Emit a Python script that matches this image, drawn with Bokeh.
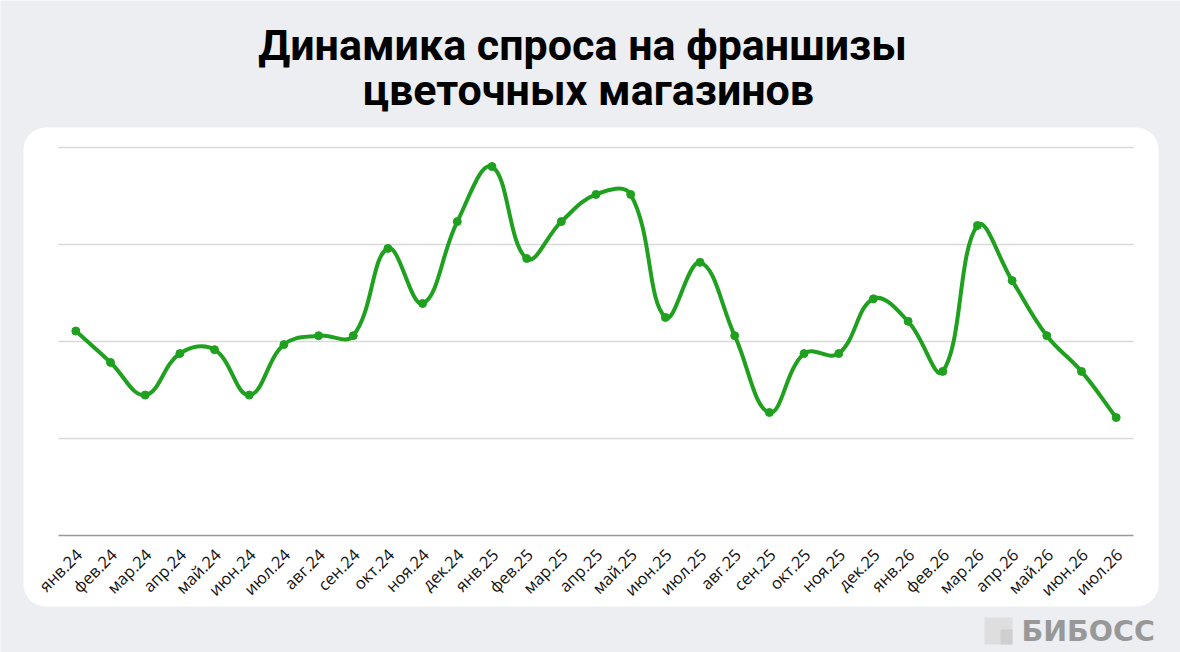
from bokeh.plotting import figure
from bokeh.models import FixedTicker, BoxAnnotation, Label, ColumnDataSource
from bokeh.embed import file_html
from bokeh.resources import INLINE
import math

months = ["янв.24","фев.24","мар.24","апр.24","май.24","июн.24","июл.24","авг.24","сен.24","окт.24","ноя.24","дек.24",
          "янв.25","фев.25","мар.25","апр.25","май.25","июн.25","июл.25","авг.25","сен.25","окт.25","ноя.25","дек.25",
          "янв.26","фев.26","мар.26","апр.26","май.26","июн.26","июл.26"]
demand = [52.7,44.6,36.2,46.9,47.9,36.2,49.2,51.5,51.5,74.0,59.8,80.9,95.1,71.4,80.9,87.9,87.9,56.2,70.4,51.5,
          31.7,46.9,46.9,61.0,55.2,42.3,79.9,65.7,51.5,42.3,30.4]
y_ticks = [25,50,75,100]
title_lines = ["Динамика спроса на франшизы","цветочных магазинов"]
brand = "БИБОСС"

BG="#eceef2"; GREEN="#1fa11f"
W,H=1180,652
L,R,T,B=58,47,147,117
n=len(demand)
xs=list(range(n))
y_top=max(y_ticks)
sx=(W-L-R)/n; sy=(H-T-B)/y_top
p=figure(width=W,height=H,x_range=(-0.5-L/sx,n-0.5+R/sx),y_range=(-B/sy,y_top+T/sy),output_backend="svg",toolbar_location=None,
         min_border_left=0,min_border_right=0,min_border_top=0,min_border_bottom=0,
         background_fill_color=BG,border_fill_color=BG,outline_line_color=None,margin=0)

def box(l,r,t,b,color,radius=0):
    return BoxAnnotation(left=l,right=r,top=t,bottom=b,left_units="canvas",right_units="canvas",top_units="canvas",bottom_units="canvas",
        fill_color=color,fill_alpha=1,line_color=None,border_radius=radius,level="image")
p.add_layout(box(23,1158,127,606,"white",22))

p.xgrid.visible=False
p.ygrid.visible=False
p.yaxis.visible=False
p.segment(x0=[-0.5]*len(y_ticks),x1=[n-0.5]*len(y_ticks),y0=y_ticks,y1=y_ticks,line_color="#d9d9d9",line_width=1.3,level="underlay")
ax=p.xaxis[0]
ax.fixed_location=0
ax.bounds=(-0.5,n-0.5)
label_shift=3/sx
tick_pos=[x+label_shift for x in xs]
ax.ticker=FixedTicker(ticks=tick_pos)
ax.major_label_overrides=dict(zip(tick_pos,months))
ax.major_label_orientation=math.pi/4
ax.major_label_text_font="Open Sans"; ax.major_label_text_font_size="16.5px"; ax.major_label_text_color="#111111"
ax.major_label_standoff=10
ax.axis_line_color="#999999"; ax.axis_line_width=1.5
ax.major_tick_line_color=None; ax.minor_tick_line_color=None

# smooth curve with distance-weighted control points (computed in pixel space)
t=0.4
c_prev=[];c_next=[]
for i in range(n):
    a=(xs[max(i-1,0)],demand[max(i-1,0)]);b=(xs[i],demand[i]);c=(xs[min(i+1,n-1)],demand[min(i+1,n-1)])
    d01=math.hypot((b[0]-a[0])*sx,(b[1]-a[1])*sy); d12=math.hypot((c[0]-b[0])*sx,(c[1]-b[1])*sy)
    fa=t*d01/(d01+d12); fb=t*d12/(d01+d12)
    c_prev.append((b[0]-fa*(c[0]-a[0]),b[1]-fa*(c[1]-a[1])))
    c_next.append((b[0]+fb*(c[0]-a[0]),b[1]+fb*(c[1]-a[1])))
seg=ColumnDataSource(dict(x0=xs[:-1],y0=demand[:-1],x1=xs[1:],y1=demand[1:],
    cx0=[q[0] for q in c_next[:-1]],cy0=[q[1] for q in c_next[:-1]],
    cx1=[q[0] for q in c_prev[1:]],cy1=[q[1] for q in c_prev[1:]]))
p.bezier(x0="x0",y0="y0",x1="x1",y1="y1",cx0="cx0",cy0="cy0",cx1="cx1",cy1="cy1",source=seg,line_color=GREEN,line_width=4,line_cap="round")
p.scatter(xs,demand,size=8,color=GREEN)

for txt,yb,xc in zip(title_lines,[H-44,H-89],[582,588]):
    p.add_layout(Label(x=xc,y=yb,x_units="screen",y_units="screen",text=txt,text_align="center",text_baseline="alphabetic",
        text_font="Roboto",text_font_style="bold",text_font_size="43px",text_color="#000000"))

p.add_layout(box(984,1012,617,644,"#dedede"))
p.add_layout(box(1000,1012,629,644,"#cfcfcf"))
p.add_layout(Label(x=1021,y=H-631,x_units="screen",y_units="screen",text=brand,text_align="left",text_baseline="alphabetic",
    text_font="DejaVu Sans",text_font_style="bold",text_font_size="28.5px",text_color="#989898"))

open("out.html","w").write(file_html(p,INLINE))
